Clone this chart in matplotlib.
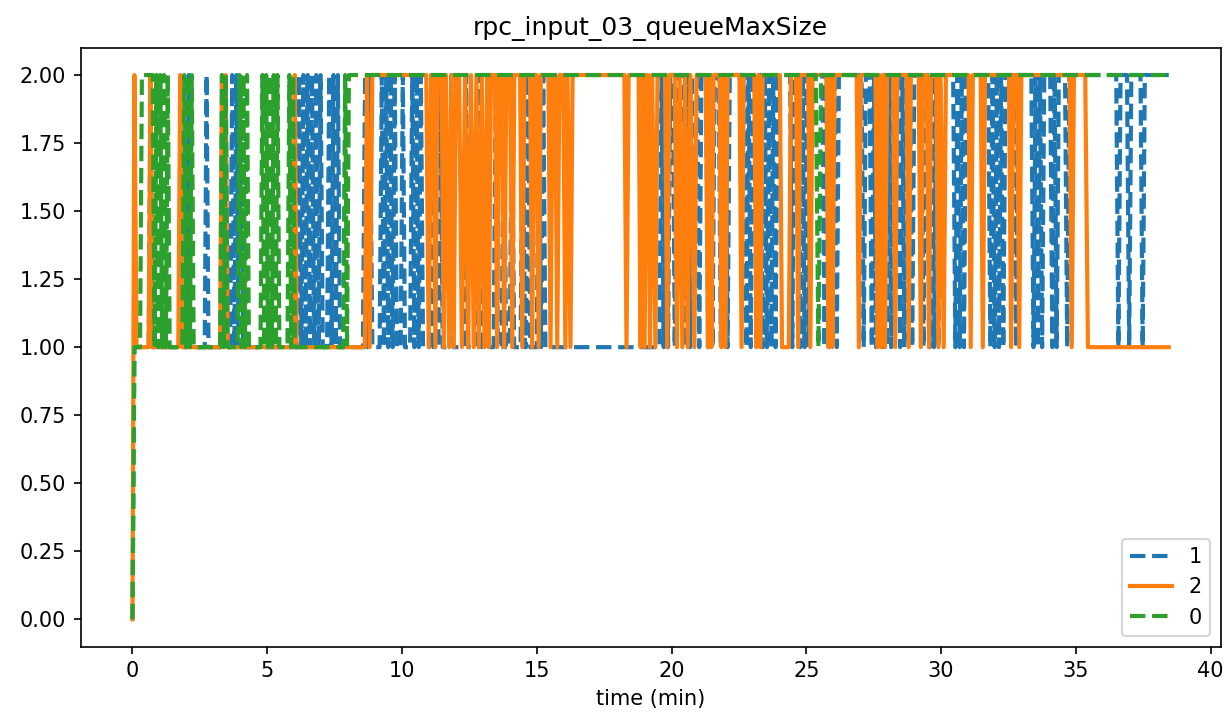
import matplotlib
matplotlib.use("Agg")
import matplotlib.pyplot as plt

title = "rpc_input_03_queueMaxSize"
xlabel = "time (min)"
labels = ["1", "2", "0"]

# (time in minutes, queueMaxSize) samples
series_1 = [
    (0.0, 0), (0.07, 1),
    (0.60, 1), (0.67, 2), (0.74, 1),
    (2.02, 1), (2.09, 2), (2.16, 1),
    (2.68, 1), (2.75, 2), (2.82, 1),
    (3.62, 1), (3.70, 2), (3.78, 1), (3.86, 2), (3.94, 1), (4.02, 2), (4.10, 1),
    (6.10, 1), (6.18, 2), (6.26, 1), (6.34, 2), (6.42, 1), (6.50, 2), (6.58, 1), (6.66, 2),
    (6.74, 1), (6.82, 2), (6.90, 1), (6.98, 2), (7.06, 1),
    (7.22, 1), (7.30, 2), (7.38, 1), (7.46, 2), (7.54, 1), (7.62, 2), (7.70, 1),
    (8.55, 1), (8.63, 2), (8.71, 1), (8.80, 2), (8.90, 1),
    (9.17, 1), (9.25, 2), (9.33, 1), (9.41, 2), (9.49, 1), (9.57, 2), (9.65, 1), (9.73, 2), (9.81, 1),
    (9.95, 1), (10.03, 2), (10.11, 1),
    (10.30, 1), (10.38, 2), (10.46, 1), (10.54, 2), (10.62, 1), (10.70, 2), (10.78, 1),
    (11.00, 1), (11.08, 2), (11.16, 1), (11.35, 1), (11.43, 2), (11.51, 1), (11.75, 1), (11.83, 2), (11.91, 1),
    (12.30, 1), (12.38, 2), (12.46, 1), (12.80, 1), (12.88, 2), (12.96, 1),
    (13.40, 1), (13.48, 2), (13.56, 1), (13.70, 1), (13.78, 2), (13.86, 1),
    (14.00, 1), (14.08, 2), (14.16, 1), (14.40, 1), (14.48, 2), (14.56, 1), (14.60, 1), (14.68, 2), (14.76, 1),
    (15.00, 1), (15.08, 2), (15.16, 1), (15.24, 2), (15.32, 1),
    (19.55, 1), (19.63, 2), (19.71, 1), (19.79, 2), (19.87, 1), (19.95, 2),
    (20.05, 2), (20.12, 1), (20.20, 2), (20.45, 2), (20.53, 1), (20.61, 2), (20.69, 1), (20.77, 2),
    (20.95, 2), (21.03, 1), (21.11, 2), (21.28, 2), (21.36, 1), (21.44, 2), (21.52, 1), (21.60, 2),
    (21.75, 2), (21.83, 1), (21.91, 2), (22.00, 2), (22.08, 1), (22.16, 2),
    (22.70, 2), (22.78, 1), (22.86, 2), (22.94, 1), (23.02, 2),
    (23.30, 2), (23.38, 1), (23.46, 2), (23.54, 1), (23.62, 2), (23.70, 1), (23.78, 2), (23.86, 1), (23.94, 2),
    (24.40, 2), (24.48, 1), (24.56, 2), (24.70, 2), (24.78, 1), (24.86, 2), (24.94, 1), (25.02, 2), (25.10, 1), (25.18, 2),
    (25.60, 2), (25.68, 1), (25.76, 2), (25.84, 1), (25.92, 2), (26.05, 2), (26.13, 1), (26.21, 2),
    (27.05, 2), (27.13, 1), (27.21, 2), (27.35, 2), (27.43, 1), (27.51, 2), (27.59, 1), (27.67, 2),
    (27.75, 2), (27.83, 1), (27.91, 2), (27.99, 1), (28.07, 2), (28.15, 1), (28.23, 2),
    (28.40, 2), (28.48, 1), (28.56, 2), (28.64, 1), (28.72, 2), (28.85, 2), (28.93, 1), (29.01, 2),
    (29.27, 2), (29.35, 1), (29.43, 2), (29.50, 2), (29.58, 1), (29.66, 2), (29.74, 1), (29.82, 2), (29.90, 1), (29.98, 2),
    (30.45, 2), (30.53, 1), (30.61, 2), (30.69, 1), (30.77, 2), (30.85, 1), (30.93, 2),
    (31.75, 2), (31.83, 1), (31.91, 2), (31.99, 1), (32.07, 2), (32.15, 1), (32.23, 2), (32.31, 1), (32.39, 2),
    (32.70, 2), (32.78, 1), (32.86, 2),
    (33.35, 2), (33.43, 1), (33.51, 2), (33.59, 1), (33.67, 2), (33.75, 1), (33.83, 2),
    (34.05, 2), (34.13, 1), (34.21, 2), (34.29, 1), (34.37, 2),
    (34.60, 2), (34.68, 1), (34.76, 2),
    (36.50, 2), (36.58, 1), (36.66, 2), (36.90, 2), (36.98, 1), (37.06, 2),
    (37.40, 2), (37.48, 1), (37.56, 2), (38.45, 2),
]

series_2 = [
    (0.0, 0), (0.07, 2), (0.15, 1),
    (0.60, 1), (0.67, 2), (0.74, 1),
    (1.70, 1), (1.77, 2), (1.84, 1),
    (3.25, 1), (3.32, 2), (3.39, 1), (3.46, 2), (3.53, 1),
    (5.95, 1), (6.02, 2), (6.09, 1),
    (8.62, 1), (8.70, 2), (8.80, 1), (8.90, 2),
    (10.90, 2), (10.99, 1), (11.08, 2),
    (11.16, 2), (11.24, 1), (11.32, 2),
    (11.47, 2), (11.55, 1), (11.63, 2), (11.75, 1), (11.83, 2), (11.92, 1), (12.00, 2),
    (12.12, 2), (12.22, 1), (12.34, 2), (12.45, 1), (12.56, 2), (12.66, 1), (12.76, 2), (12.85, 1),
    (12.96, 2), (13.06, 1), (13.16, 2), (13.22, 1), (13.30, 2),
    (13.45, 2), (13.53, 1), (13.61, 2),
    (13.71, 2), (13.79, 1), (13.87, 2),
    (14.01, 2), (14.09, 1), (14.17, 2),
    (14.38, 2), (14.46, 1), (14.54, 2),
    (14.75, 2), (14.83, 1), (14.91, 2), (14.99, 2), (15.07, 1), (15.15, 2),
    (15.43, 2), (15.51, 1), (15.59, 2), (15.68, 2), (15.76, 1), (15.84, 2),
    (15.98, 2), (16.06, 1), (16.14, 2), (16.25, 1), (16.33, 2),
    (18.25, 2), (18.33, 1), (18.41, 2),
    (18.78, 2), (18.85, 1), (18.92, 2), (19.00, 1), (19.08, 2),
    (19.14, 2), (19.20, 1), (19.28, 2), (19.40, 1), (19.48, 2),
    (19.76, 2), (19.84, 1), (19.92, 2),
    (20.12, 2), (20.20, 1), (20.30, 2), (20.40, 1), (20.50, 2), (20.60, 1), (20.70, 2), (20.85, 1), (20.93, 2),
    (21.27, 2), (21.35, 1), (21.42, 2), (21.48, 1), (21.56, 2),
    (21.78, 2), (21.85, 1), (21.92, 2), (22.00, 1), (22.08, 2),
    (22.52, 2), (22.60, 1), (22.68, 2),
    (23.07, 2), (23.15, 1), (23.22, 2), (23.30, 1), (23.38, 2),
    (24.02, 2), (24.10, 1), (24.35, 1), (24.43, 2),
    (24.62, 2), (24.70, 1), (24.78, 2),
    (25.07, 2), (25.15, 1), (25.23, 2),
    (25.75, 2), (25.82, 1), (25.90, 2), (25.97, 1), (26.05, 2),
    (26.87, 2), (26.95, 1), (27.03, 2),
    (27.57, 2), (27.65, 1), (27.72, 2), (27.78, 1), (27.85, 2), (27.92, 1), (28.00, 2),
    (28.22, 2), (28.30, 1), (28.38, 2),
    (28.72, 2), (28.80, 1), (28.88, 2),
    (29.17, 2), (29.25, 1), (29.33, 2),
    (29.47, 2), (29.55, 1), (29.63, 2),
    (29.82, 2), (29.90, 1), (29.98, 2), (30.10, 1), (30.18, 2),
    (31.02, 2), (31.10, 1), (31.18, 2),
    (31.47, 2), (31.55, 1), (31.63, 2),
    (32.52, 2), (32.60, 1), (32.68, 2),
    (32.82, 2), (32.90, 1), (32.98, 2),
    (34.77, 2), (34.85, 1), (34.93, 2),
    (35.35, 2), (35.45, 1), (38.45, 1),
]

series_0 = [
    (0.0, 0), (0.07, 1), (0.28, 1), (0.35, 2), (0.75, 2), (0.82, 1), (0.89, 2), (0.96, 1),
    (1.03, 2), (1.10, 1), (1.17, 2), (1.24, 1), (1.31, 2), (1.38, 1),
    (1.85, 1), (1.92, 2), (1.99, 1), (2.06, 2), (2.13, 1), (2.20, 2), (2.27, 1),
    (3.25, 1), (3.32, 2), (3.39, 1), (3.46, 2), (3.53, 1),
    (3.90, 1), (3.97, 2), (4.04, 1), (4.11, 2), (4.18, 1), (4.25, 2), (4.32, 1),
    (4.75, 1), (4.82, 2), (4.89, 1), (4.96, 2), (5.03, 1), (5.10, 2), (5.17, 1),
    (5.24, 2), (5.31, 1), (5.38, 2), (5.45, 1),
    (5.75, 1), (5.82, 2), (5.89, 1), (5.96, 2), (6.03, 1),
    (7.82, 1), (7.89, 2), (7.96, 1), (8.03, 2),
    (25.35, 2), (25.45, 1), (25.55, 2),
    (38.45, 2),
]

colors = ["#1f77b4", "#ff7f0e", "#2ca02c"]
styles = ["--", "-", "--"]

fig = plt.figure(figsize=(1226 / 150, 719 / 150), dpi=150)
ax = fig.add_axes([0.0658, 0.1008, 0.9956 - 0.0658, 0.9335 - 0.1008])

for data, lab, c, ls in zip([series_1, series_2, series_0], labels, colors, styles):
    t = [p[0] for p in data]
    v = [p[1] for p in data]
    ax.plot(t, v, ls, color=c, label=lab, lw=2)

ax.set_title(title, fontsize=12)
ax.set_xlabel(xlabel)
ax.set_xticks([0, 5, 10, 15, 20, 25, 30, 35, 40])
ax.set_yticks([0.0, 0.25, 0.5, 0.75, 1.0, 1.25, 1.5, 1.75, 2.0])
ax.legend(loc="lower right")

fig.savefig("out.png", dpi=150)
